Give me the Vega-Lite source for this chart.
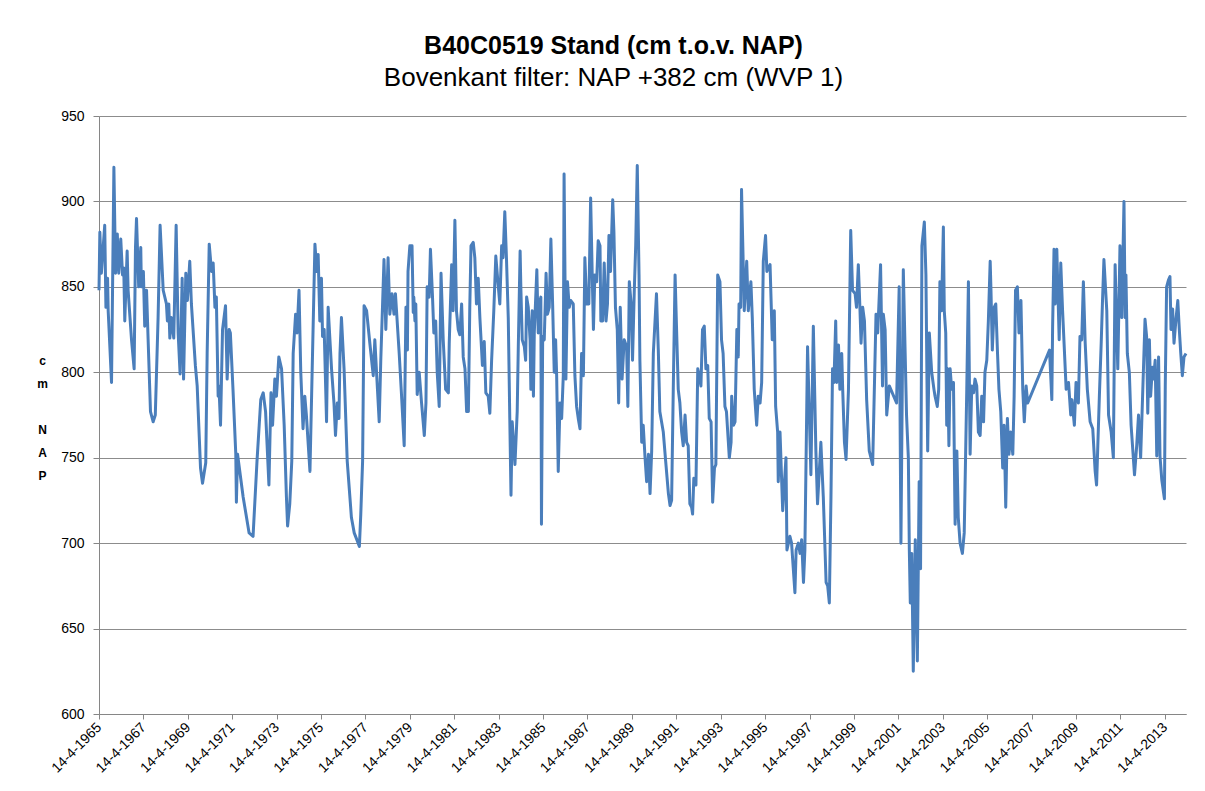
{
"$schema": "https://vega.github.io/schema/vega-lite/v6.json",
"width": 1087, "height": 598,
"autosize": {"type": "none"},
"padding": {"left": 99, "top": 116, "right": 19, "bottom": 77},
"background": "white",
"title": {"text": "B40C0519 Stand (cm t.o.v. NAP)", "subtitle": "Bovenkant filter: NAP +382 cm (WVP 1)", "anchor": "middle", "dx": -29, "font": "Liberation Sans", "fontSize": 25, "fontWeight": "bold", "color": "black", "subtitleFont": "Liberation Sans", "subtitleFontSize": 26, "subtitleColor": "black", "subtitlePadding": 6, "offset": 18},
"config": {"view": {"stroke": null}},
"data": {"values": [
{"datum":"1965-04-14","stand":848},{"datum":"1965-04-28","stand":882},{"datum":"1965-05-23","stand":858},{"datum":"1965-07-17","stand":886},{"datum":"1965-08-06","stand":838},{"datum":"1965-09-02","stand":855},{"datum":"1965-09-12","stand":836},{"datum":"1965-11-06","stand":794},{"datum":"1965-12-15","stand":920},{"datum":"1966-01-11","stand":858},{"datum":"1966-02-09","stand":881},{"datum":"1966-03-05","stand":858},{"datum":"1966-04-07","stand":878},{"datum":"1966-05-06","stand":857},{"datum":"1966-05-26","stand":861},{"datum":"1966-06-12","stand":830},{"datum":"1966-07-21","stand":871},{"datum":"1966-08-06","stand":848},{"datum":"1966-10-01","stand":819},{"datum":"1966-11-13","stand":802},{"datum":"1966-12-05","stand":873},{"datum":"1966-12-22","stand":890},{"datum":"1967-01-27","stand":850},{"datum":"1967-03-02","stand":873},{"datum":"1967-03-12","stand":850},{"datum":"1967-04-14","stand":859},{"datum":"1967-05-06","stand":827},{"datum":"1967-06-05","stand":848},{"datum":"1967-07-01","stand":819},{"datum":"1967-08-09","stand":777},{"datum":"1967-09-22","stand":771},{"datum":"1967-10-27","stand":775},{"datum":"1967-12-12","stand":832},{"datum":"1968-01-14","stand":886},{"datum":"1968-03-05","stand":848},{"datum":"1968-04-27","stand":840},{"datum":"1968-05-13","stand":830},{"datum":"1968-06-05","stand":840},{"datum":"1968-06-22","stand":820},{"datum":"1968-07-17","stand":832},{"datum":"1968-08-26","stand":820},{"datum":"1968-10-04","stand":886},{"datum":"1968-11-06","stand":823},{"datum":"1968-12-08","stand":799},{"datum":"1969-01-11","stand":855},{"datum":"1969-02-03","stand":796},{"datum":"1969-03-12","stand":858},{"datum":"1969-04-07","stand":842},{"datum":"1969-05-16","stand":865},{"datum":"1969-06-12","stand":840},{"datum":"1969-08-16","stand":804},{"datum":"1969-09-15","stand":792},{"datum":"1969-11-09","stand":744},{"datum":"1969-12-12","stand":735},
{"datum":"1970-02-03","stand":747},{"datum":"1970-02-26","stand":811},{"datum":"1970-04-01","stand":875},{"datum":"1970-05-09","stand":859},{"datum":"1970-06-05","stand":864},{"datum":"1970-07-04","stand":838},{"datum":"1970-07-27","stand":844},{"datum":"1970-08-26","stand":786},{"datum":"1970-09-08","stand":792},{"datum":"1970-10-04","stand":769},{"datum":"1970-11-06","stand":825},{"datum":"1970-12-25","stand":839},{"datum":"1971-01-21","stand":796},{"datum":"1971-02-23","stand":825},{"datum":"1971-03-15","stand":823},{"datum":"1971-04-27","stand":790},{"datum":"1971-06-12","stand":752},{"datum":"1971-06-22","stand":724},{"datum":"1971-07-11","stand":752},{"datum":"1971-10-11","stand":727},{"datum":"1972-01-17","stand":706},{"datum":"1972-03-22","stand":704},{"datum":"1972-05-26","stand":748},{"datum":"1972-07-01","stand":769},{"datum":"1972-07-27","stand":784},{"datum":"1972-09-05","stand":788},{"datum":"1972-10-14","stand":777},{"datum":"1972-12-08","stand":734},{"datum":"1973-01-11","stand":788},{"datum":"1973-02-06","stand":769},{"datum":"1973-03-15","stand":796},{"datum":"1973-04-11","stand":786},{"datum":"1973-05-20","stand":809},{"datum":"1973-07-04","stand":802},{"datum":"1973-08-16","stand":769},{"datum":"1973-09-22","stand":727},{"datum":"1973-10-11","stand":710},{"datum":"1973-11-16","stand":723},{"datum":"1973-12-19","stand":748},{"datum":"1974-01-11","stand":811},{"datum":"1974-02-20","stand":834},{"datum":"1974-03-15","stand":823},{"datum":"1974-04-17","stand":848},{"datum":"1974-05-16","stand":800},{"datum":"1974-06-22","stand":767},{"datum":"1974-07-21","stand":786},{"datum":"1974-08-16","stand":775},{"datum":"1974-10-14","stand":742},
{"datum":"1975-01-04","stand":875},{"datum":"1975-02-03","stand":859},{"datum":"1975-02-26","stand":869},{"datum":"1975-03-25","stand":830},{"datum":"1975-04-21","stand":855},{"datum":"1975-05-09","stand":821},{"datum":"1975-06-05","stand":825},{"datum":"1975-07-14","stand":771},{"datum":"1975-08-09","stand":838},{"datum":"1975-10-04","stand":802},{"datum":"1975-11-13","stand":782},{"datum":"1975-12-08","stand":763},{"datum":"1976-01-07","stand":782},{"datum":"1976-02-03","stand":773},{"datum":"1976-02-20","stand":811},{"datum":"1976-03-15","stand":832},{"datum":"1976-04-27","stand":802},{"datum":"1976-06-18","stand":748},{"datum":"1976-08-26","stand":715},{"datum":"1976-10-11","stand":706},{"datum":"1976-12-15","stand":700},{"datum":"1977-01-04","stand":698},{"datum":"1977-01-27","stand":717},{"datum":"1977-02-26","stand":748},{"datum":"1977-03-22","stand":839},{"datum":"1977-05-03","stand":836},{"datum":"1977-06-25","stand":817},{"datum":"1977-08-20","stand":798},{"datum":"1977-09-15","stand":819},{"datum":"1977-11-26","stand":771},{"datum":"1977-12-22","stand":807},{"datum":"1978-02-13","stand":866},{"datum":"1978-03-15","stand":825},{"datum":"1978-04-21","stand":867},{"datum":"1978-05-20","stand":834},{"datum":"1978-06-25","stand":846},{"datum":"1978-07-27","stand":834},{"datum":"1978-08-20","stand":846},{"datum":"1978-10-21","stand":811},{"datum":"1978-11-26","stand":788},{"datum":"1979-01-11","stand":757},{"datum":"1979-02-09","stand":838},{"datum":"1979-03-05","stand":813},{"datum":"1979-03-15","stand":859},{"datum":"1979-04-14","stand":874},{"datum":"1979-05-20","stand":874},{"datum":"1979-06-09","stand":835},
{"datum":"1979-06-18","stand":844},{"datum":"1979-07-07","stand":830},{"datum":"1979-07-21","stand":840},{"datum":"1979-08-13","stand":787},{"datum":"1979-09-15","stand":800},{"datum":"1979-10-24","stand":782},{"datum":"1979-12-08","stand":763},{"datum":"1980-01-04","stand":782},{"datum":"1980-01-24","stand":850},{"datum":"1980-02-26","stand":844},{"datum":"1980-03-18","stand":872},{"datum":"1980-04-21","stand":844},{"datum":"1980-05-13","stand":823},{"datum":"1980-06-12","stand":830},{"datum":"1980-07-07","stand":800},{"datum":"1980-08-09","stand":780},{"datum":"1980-09-08","stand":858},{"datum":"1980-10-14","stand":819},{"datum":"1980-11-23","stand":790},{"datum":"1981-01-07","stand":788},{"datum":"1981-01-21","stand":817},{"datum":"1981-03-02","stand":863},{"datum":"1981-03-25","stand":836},{"datum":"1981-04-24","stand":889},{"datum":"1981-05-20","stand":836},{"datum":"1981-06-18","stand":825},{"datum":"1981-07-14","stand":822},{"datum":"1981-08-13","stand":840},{"datum":"1981-09-08","stand":809},{"datum":"1981-10-07","stand":802},{"datum":"1981-11-03","stand":777},{"datum":"1981-12-02","stand":777},{"datum":"1981-12-25","stand":838},{"datum":"1982-01-14","stand":874},{"datum":"1982-02-20","stand":876},{"datum":"1982-03-18","stand":867},{"datum":"1982-04-14","stand":840},{"datum":"1982-05-13","stand":855},{"datum":"1982-06-09","stand":832},{"datum":"1982-07-21","stand":804},{"datum":"1982-08-20","stand":818},{"datum":"1982-09-15","stand":788},{"datum":"1982-10-24","stand":786},{"datum":"1982-11-20","stand":776},{"datum":"1982-12-19","stand":807},{"datum":"1983-01-24","stand":836},{"datum":"1983-02-26","stand":868},{"datum":"1983-04-01","stand":853},{"datum":"1983-05-03","stand":840},{"datum":"1983-06-02","stand":874},{"datum":"1983-06-25","stand":867},{"datum":"1983-07-24","stand":894},{"datum":"1983-08-20","stand":867},{"datum":"1983-09-19","stand":832},{"datum":"1983-10-14","stand":773},{"datum":"1983-11-03","stand":728},{"datum":"1983-11-23","stand":771},{"datum":"1984-01-07","stand":746},{"datum":"1984-02-13","stand":777},
{"datum":"1984-03-02","stand":815},{"datum":"1984-04-01","stand":871},{"datum":"1984-04-14","stand":848},{"datum":"1984-05-06","stand":819},{"datum":"1984-06-09","stand":815},{"datum":"1984-07-01","stand":807},{"datum":"1984-07-17","stand":844},{"datum":"1984-08-13","stand":838},{"datum":"1984-09-12","stand":819},{"datum":"1984-09-25","stand":790},{"datum":"1984-10-17","stand":836},{"datum":"1984-11-06","stand":786},{"datum":"1984-11-20","stand":823},{"datum":"1985-01-01","stand":860},{"datum":"1985-01-24","stand":823},{"datum":"1985-02-23","stand":842},{"datum":"1985-03-08","stand":844},{"datum":"1985-03-18","stand":711},{"datum":"1985-04-07","stand":821},{"datum":"1985-05-03","stand":819},{"datum":"1985-06-02","stand":858},{"datum":"1985-06-25","stand":834},{"datum":"1985-07-24","stand":838},{"datum":"1985-08-20","stand":878},{"datum":"1985-09-19","stand":838},{"datum":"1985-10-14","stand":800},{"datum":"1985-11-06","stand":819},{"datum":"1985-11-23","stand":798},{"datum":"1985-12-19","stand":742},{"datum":"1986-01-17","stand":782},{"datum":"1986-02-13","stand":773},{"datum":"1986-03-12","stand":798},{"datum":"1986-03-25","stand":916},{"datum":"1986-04-24","stand":796},{"datum":"1986-05-20","stand":853},{"datum":"1986-06-18","stand":838},{"datum":"1986-07-14","stand":842},{"datum":"1986-08-23","stand":840},{"datum":"1986-09-19","stand":798},{"datum":"1986-10-17","stand":780},{"datum":"1986-11-13","stand":773},{"datum":"1986-12-12","stand":767},{"datum":"1987-01-07","stand":811},{"datum":"1987-02-06","stand":798},{"datum":"1987-03-02","stand":867},{"datum":"1987-04-01","stand":840},{"datum":"1987-05-06","stand":840},{"datum":"1987-06-05","stand":902},{"datum":"1987-07-01","stand":857},{"datum":"1987-07-21","stand":825},{"datum":"1987-08-13","stand":857},{"datum":"1987-09-12","stand":853},{"datum":"1987-10-07","stand":877},{"datum":"1987-11-06","stand":874},{"datum":"1987-11-20","stand":830},{"datum":"1987-12-19","stand":830},{"datum":"1988-01-14","stand":864},{"datum":"1988-02-13","stand":830},{"datum":"1988-03-08","stand":840},{"datum":"1988-04-01","stand":880},{"datum":"1988-04-27","stand":859},{"datum":"1988-06-02","stand":901},{"datum":"1988-06-22","stand":882},{"datum":"1988-07-17","stand":838},{"datum":"1988-08-16","stand":825},{"datum":"1988-09-08","stand":782},{"datum":"1988-10-04","stand":838},{"datum":"1988-11-03","stand":796},{"datum":"1988-12-08","stand":819},
{"datum":"1989-01-17","stand":815},{"datum":"1989-02-06","stand":780},{"datum":"1989-03-02","stand":853},{"datum":"1989-04-01","stand":840},{"datum":"1989-04-24","stand":807},{"datum":"1989-05-23","stand":848},{"datum":"1989-06-15","stand":874},{"datum":"1989-07-11","stand":921},{"datum":"1989-08-09","stand":857},{"datum":"1989-08-23","stand":807},{"datum":"1989-09-22","stand":759},{"datum":"1989-10-17","stand":769},{"datum":"1989-11-16","stand":750},{"datum":"1989-12-12","stand":736},{"datum":"1990-01-11","stand":752},{"datum":"1990-02-06","stand":729},{"datum":"1990-03-05","stand":754},{"datum":"1990-04-01","stand":811},{"datum":"1990-05-23","stand":846},{"datum":"1990-06-22","stand":813},{"datum":"1990-07-17","stand":777},{"datum":"1990-09-12","stand":765},{"datum":"1990-10-21","stand":748},{"datum":"1990-12-05","stand":729},{"datum":"1991-01-01","stand":722},{"datum":"1991-01-27","stand":725},{"datum":"1991-02-23","stand":790},{"datum":"1991-03-25","stand":857},{"datum":"1991-04-17","stand":827},{"datum":"1991-05-16","stand":790},{"datum":"1991-06-12","stand":782},{"datum":"1991-07-11","stand":765},{"datum":"1991-08-06","stand":757},{"datum":"1991-09-05","stand":775},{"datum":"1991-10-01","stand":759},{"datum":"1991-10-27","stand":757},{"datum":"1991-11-23","stand":723},{"datum":"1991-12-22","stand":721},{"datum":"1992-01-07","stand":717},{"datum":"1992-01-27","stand":738},{"datum":"1992-03-02","stand":734},{"datum":"1992-04-01","stand":802},{"datum":"1992-04-24","stand":798},{"datum":"1992-05-23","stand":792},{"datum":"1992-06-18","stand":825},{"datum":"1992-07-17","stand":827},{"datum":"1992-08-13","stand":802},{"datum":"1992-09-12","stand":804},{"datum":"1992-10-07","stand":773},{"datum":"1992-11-06","stand":771},{"datum":"1992-12-02","stand":724},{"datum":"1993-01-01","stand":744},{"datum":"1993-01-24","stand":746},{"datum":"1993-02-23","stand":857},{"datum":"1993-04-01","stand":853},{"datum":"1993-04-27","stand":819},{"datum":"1993-05-23","stand":811},{"datum":"1993-06-22","stand":780},{"datum":"1993-07-17","stand":777},{"datum":"1993-09-02","stand":750},
{"datum":"1993-10-01","stand":759},{"datum":"1993-10-11","stand":786},{"datum":"1993-11-09","stand":769},{"datum":"1993-12-05","stand":771},{"datum":"1994-01-04","stand":825},{"datum":"1994-01-27","stand":809},{"datum":"1994-02-09","stand":840},{"datum":"1994-03-08","stand":838},{"datum":"1994-03-22","stand":907},{"datum":"1994-05-06","stand":836},{"datum":"1994-06-15","stand":865},{"datum":"1994-07-11","stand":836},{"datum":"1994-08-23","stand":853},{"datum":"1994-09-15","stand":832},{"datum":"1994-10-17","stand":790},{"datum":"1994-11-26","stand":769},{"datum":"1994-12-22","stand":786},{"datum":"1995-01-21","stand":782},{"datum":"1995-02-16","stand":794},{"datum":"1995-03-15","stand":865},{"datum":"1995-04-21","stand":880},{"datum":"1995-05-13","stand":859},{"datum":"1995-07-04","stand":863},{"datum":"1995-08-09","stand":819},{"datum":"1995-09-12","stand":836},{"datum":"1995-10-04","stand":780},{"datum":"1995-11-06","stand":765},{"datum":"1995-11-16","stand":736},{"datum":"1995-12-15","stand":765},{"datum":"1996-01-28","stand":719},{"datum":"1996-03-22","stand":750},{"datum":"1996-04-07","stand":696},{"datum":"1996-05-26","stand":704},{"datum":"1996-06-22","stand":700},{"datum":"1996-08-16","stand":671},{"datum":"1996-09-05","stand":696},{"datum":"1996-10-11","stand":700},{"datum":"1996-11-09","stand":694},{"datum":"1996-12-05","stand":702},{"datum":"1997-01-04","stand":677},{"datum":"1997-01-27","stand":696},{"datum":"1997-03-12","stand":815},{"datum":"1997-05-06","stand":740},{"datum":"1997-06-15","stand":827},{"datum":"1997-07-27","stand":754},{"datum":"1997-08-23","stand":723},{"datum":"1997-10-17","stand":759},{"datum":"1997-11-26","stand":727},{"datum":"1998-01-11","stand":677},{"datum":"1998-02-06","stand":675},{"datum":"1998-03-05","stand":665},{"datum":"1998-04-01","stand":727},{"datum":"1998-04-27","stand":802},
{"datum":"1998-05-20","stand":794},{"datum":"1998-06-18","stand":830},{"datum":"1998-07-04","stand":794},{"datum":"1998-08-03","stand":816},{"datum":"1998-08-26","stand":790},{"datum":"1998-09-25","stand":811},{"datum":"1998-10-11","stand":790},{"datum":"1998-11-09","stand":759},{"datum":"1998-12-05","stand":749},{"datum":"1999-01-14","stand":790},{"datum":"1999-02-20","stand":883},{"datum":"1999-03-22","stand":848},{"datum":"1999-05-03","stand":846},{"datum":"1999-05-26","stand":838},{"datum":"1999-06-25","stand":863},{"datum":"1999-07-21","stand":838},{"datum":"1999-08-09","stand":817},{"datum":"1999-09-05","stand":838},{"datum":"1999-10-04","stand":830},{"datum":"1999-11-09","stand":784},{"datum":"1999-12-22","stand":754},{"datum":"2000-02-16","stand":746},{"datum":"2000-04-11","stand":834},{"datum":"2000-05-09","stand":823},{"datum":"2000-06-25","stand":863},{"datum":"2000-07-27","stand":792},{"datum":"2000-08-09","stand":834},{"datum":"2000-09-08","stand":825},{"datum":"2000-10-04","stand":775},{"datum":"2000-11-16","stand":792},{"datum":"2001-03-15","stand":782},{"datum":"2001-04-27","stand":850},{"datum":"2001-05-26","stand":700},{"datum":"2001-07-04","stand":860},{"datum":"2001-08-26","stand":775},{"datum":"2001-09-25","stand":750},{"datum":"2001-10-11","stand":696},{"datum":"2001-10-27","stand":665},{"datum":"2001-11-20","stand":694},{"datum":"2001-12-15","stand":625},{"datum":"2002-01-17","stand":702},{"datum":"2002-02-20","stand":631},{"datum":"2002-03-22","stand":736},{"datum":"2002-04-14","stand":685},{"datum":"2002-05-06","stand":874},{"datum":"2002-06-15","stand":888},{"datum":"2002-07-11","stand":857},{"datum":"2002-08-09","stand":754},{"datum":"2002-09-05","stand":823},{"datum":"2002-10-14","stand":800},{"datum":"2002-11-20","stand":790},{"datum":"2002-12-08","stand":786},{"datum":"2003-01-14","stand":780},{"datum":"2003-02-06","stand":790},{"datum":"2003-02-26","stand":853},
{"datum":"2003-03-25","stand":836},{"datum":"2003-04-24","stand":885},{"datum":"2003-05-09","stand":836},{"datum":"2003-06-02","stand":823},{"datum":"2003-06-18","stand":769},{"datum":"2003-07-04","stand":802},{"datum":"2003-07-24","stand":757},{"datum":"2003-08-13","stand":802},{"datum":"2003-09-08","stand":790},{"datum":"2003-10-07","stand":794},{"datum":"2003-11-03","stand":711},{"datum":"2003-12-02","stand":754},{"datum":"2003-12-25","stand":715},{"datum":"2004-01-24","stand":700},{"datum":"2004-03-02","stand":694},{"datum":"2004-04-01","stand":706},{"datum":"2004-05-13","stand":790},{"datum":"2004-06-09","stand":853},{"datum":"2004-07-07","stand":752},{"datum":"2004-08-03","stand":792},{"datum":"2004-09-02","stand":788},{"datum":"2004-09-25","stand":796},{"datum":"2004-10-24","stand":792},{"datum":"2004-11-20","stand":765},{"datum":"2004-12-19","stand":763},{"datum":"2005-01-14","stand":786},{"datum":"2005-02-13","stand":771},{"datum":"2005-03-08","stand":800},{"datum":"2005-04-07","stand":807},{"datum":"2005-05-03","stand":830},{"datum":"2005-06-02","stand":865},{"datum":"2005-06-15","stand":848},{"datum":"2005-07-07","stand":813},{"datum":"2005-08-06","stand":838},{"datum":"2005-09-02","stand":840},{"datum":"2005-10-01","stand":811},{"datum":"2005-10-24","stand":790},{"datum":"2005-11-23","stand":777},{"datum":"2005-12-25","stand":744},{"datum":"2006-01-17","stand":769},{"datum":"2006-02-13","stand":721},{"datum":"2006-03-12","stand":773},{"datum":"2006-04-07","stand":752},{"datum":"2006-05-06","stand":765},{"datum":"2006-06-09","stand":752},{"datum":"2006-07-01","stand":786},{"datum":"2006-07-24","stand":848},{"datum":"2006-08-23","stand":850},{"datum":"2006-09-19","stand":823},{"datum":"2006-10-21","stand":842},{"datum":"2006-11-20","stand":790},{"datum":"2006-12-15","stand":771},{"datum":"2007-01-14","stand":792},{"datum":"2007-02-09","stand":782},
{"datum":"2008-02-03","stand":813},{"datum":"2008-03-12","stand":784},{"datum":"2008-03-25","stand":827},{"datum":"2008-04-17","stand":872},{"datum":"2008-05-06","stand":840},{"datum":"2008-06-02","stand":872},{"datum":"2008-07-11","stand":819},{"datum":"2008-08-06","stand":864},{"datum":"2008-09-05","stand":836},{"datum":"2008-11-03","stand":790},{"datum":"2008-12-12","stand":794},{"datum":"2009-01-17","stand":775},{"datum":"2009-02-06","stand":784},{"datum":"2009-03-18","stand":769},{"datum":"2009-04-14","stand":794},{"datum":"2009-05-23","stand":782},{"datum":"2009-06-18","stand":821},{"datum":"2009-07-17","stand":819},{"datum":"2009-08-13","stand":853},{"datum":"2009-09-12","stand":817},{"datum":"2009-10-17","stand":790},{"datum":"2009-12-02","stand":771},{"datum":"2010-01-14","stand":767},{"datum":"2010-02-23","stand":742},{"datum":"2010-03-18","stand":734},{"datum":"2010-05-03","stand":786},{"datum":"2010-06-02","stand":817},{"datum":"2010-06-22","stand":840},{"datum":"2010-07-17","stand":866},{"datum":"2010-09-02","stand":836},{"datum":"2010-10-01","stand":775},{"datum":"2010-11-13","stand":765},{"datum":"2010-12-19","stand":750},{"datum":"2011-01-17","stand":863},{"datum":"2011-03-02","stand":802},{"datum":"2011-04-07","stand":874},{"datum":"2011-05-06","stand":832},{"datum":"2011-06-12","stand":900},{"datum":"2011-07-01","stand":832},{"datum":"2011-07-14","stand":857},{"datum":"2011-08-06","stand":811},{"datum":"2011-09-08","stand":800},{"datum":"2011-10-07","stand":769},{"datum":"2011-12-02","stand":740},{"datum":"2012-01-07","stand":757},{"datum":"2012-02-06","stand":775},{"datum":"2012-03-12","stand":750},
{"datum":"2012-05-23","stand":831},{"datum":"2012-06-18","stand":821},{"datum":"2012-07-07","stand":776},{"datum":"2012-08-03","stand":819},{"datum":"2012-08-23","stand":786},{"datum":"2012-09-22","stand":803},{"datum":"2012-10-07","stand":796},{"datum":"2012-11-06","stand":807},{"datum":"2012-12-02","stand":751},{"datum":"2013-01-01","stand":809},{"datum":"2013-01-24","stand":751},{"datum":"2013-02-23","stand":737},{"datum":"2013-04-07","stand":726},{"datum":"2013-04-21","stand":792},{"datum":"2013-05-13","stand":850},{"datum":"2013-06-12","stand":854},{"datum":"2013-07-07","stand":856},{"datum":"2013-07-24","stand":825},{"datum":"2013-08-20","stand":837},{"datum":"2013-09-12","stand":817},{"datum":"2013-10-14","stand":831},{"datum":"2013-11-13","stand":842},{"datum":"2013-12-08","stand":825},{"datum":"2014-01-01","stand":811},{"datum":"2014-01-27","stand":798},{"datum":"2014-02-23","stand":809},{"datum":"2014-03-28","stand":811}
]},
"mark": {"type": "line", "color": "#4A7EBB", "strokeWidth": 3, "strokeJoin": "round"},
"encoding": {
"x": {"field": "datum", "type": "temporal",
  "scale": {"domain": [{"year": 1965, "month": 4, "date": 14}, {"year": 2014, "month": 3, "date": 28}], "nice": false},
  "axis": {"title": null, "grid": false, "format": "%-d-%-m-%Y",
    "values": [{"year":1965,"month":4,"date":14},{"year":1967,"month":4,"date":14},{"year":1969,"month":4,"date":14},{"year":1971,"month":4,"date":14},{"year":1973,"month":4,"date":14},{"year":1975,"month":4,"date":14},{"year":1977,"month":4,"date":14},{"year":1979,"month":4,"date":14},{"year":1981,"month":4,"date":14},{"year":1983,"month":4,"date":14},{"year":1985,"month":4,"date":14},{"year":1987,"month":4,"date":14},{"year":1989,"month":4,"date":14},{"year":1991,"month":4,"date":14},{"year":1993,"month":4,"date":14},{"year":1995,"month":4,"date":14},{"year":1997,"month":4,"date":14},{"year":1999,"month":4,"date":14},{"year":2001,"month":4,"date":14},{"year":2003,"month":4,"date":14},{"year":2005,"month":4,"date":14},{"year":2007,"month":4,"date":14},{"year":2009,"month":4,"date":14},{"year":2011,"month":4,"date":14},{"year":2013,"month":4,"date":14}],
    "labelAngle": -45, "labelAlign": "right", "labelBaseline": "middle", "labelPadding": 6, "labelOverlap": false, "labelFlush": false, "labelBound": false,
    "labelFont": "Liberation Sans", "labelFontSize": 14, "labelColor": "black",
    "tickSize": 5, "tickColor": "#868686", "domainColor": "#868686", "domainWidth": 1}},
"y": {"field": "stand", "type": "quantitative",
  "scale": {"domain": [600, 950], "nice": false, "zero": false},
  "axis": {"values": [600, 650, 700, 750, 800, 850, 900, 950], "grid": true, "gridColor": "#8C8C8C", "gridWidth": 1,
    "tickSize": 6, "tickColor": "#868686", "domainColor": "#868686", "labelPadding": 9,
    "labelFont": "Liberation Sans", "labelFontSize": 14, "labelColor": "black",
    "title": ["c", "m", "\u2800", "N", "A", "P"], "titleAngle": 0, "titleFont": "Liberation Sans", "titleFontSize": 12, "titleFontWeight": "bold", "titleColor": "black",
    "titleX": -57, "titleY": 239, "titleBaseline": "top", "titleAlign": "center", "titleLineHeight": 23}}
}
}
